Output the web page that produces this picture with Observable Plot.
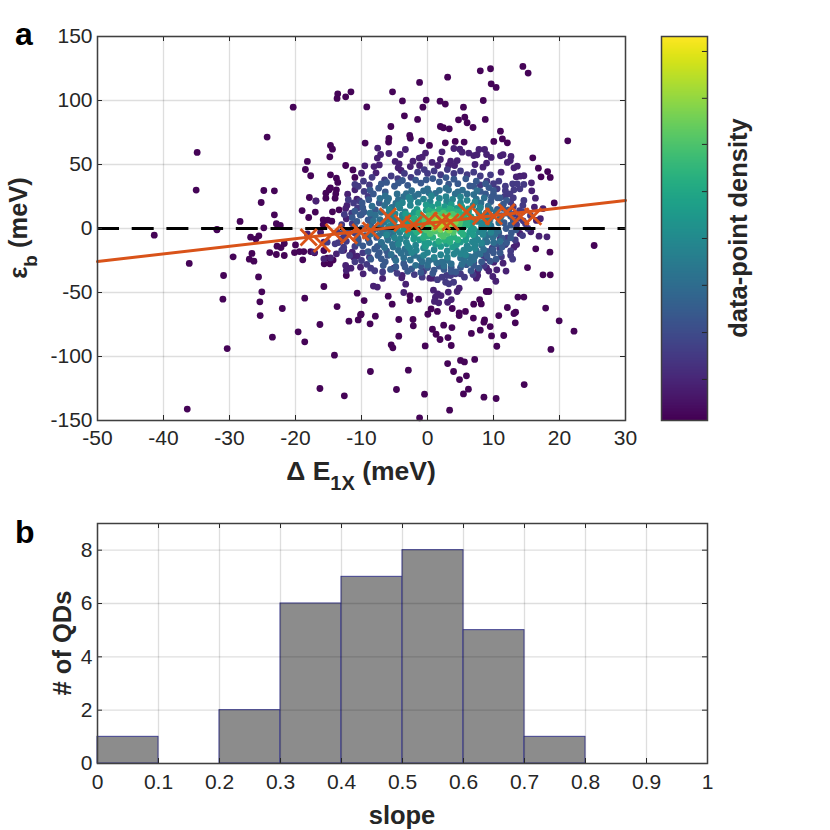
<!DOCTYPE html>
<html><head><meta charset="utf-8">
<script src="https://cdn.jsdelivr.net/npm/d3@7"></script>
<script src="https://cdn.jsdelivr.net/npm/@observablehq/plot@0.6"></script>
<style>
html,body{margin:0;padding:0;background:#fff;width:830px;height:830px;overflow:hidden}
#root{position:relative;width:830px;height:830px}
#root svg{position:absolute;background:transparent;max-width:none}
</style></head><body><div id="root"></div>
<script>
// ---- panel a: scatter points grouped by estimated density band
const far = [[-34.9,59.4],[-35.05,30],[-20.35,94.8],[-24.3,71.4],[-24.8,29.7],[-23.2,29.4],[-25.2,20.3],[-23.2,10.7],[-28.4,5.5],[-31.9,-0.8],[-24.8,0.5],[-22.9,3.7],[-22.3,2.4],[-13.6,105.2],[-13.7,101.6],[-12.4,102.9],[-11.6,106.8],[-14.7,64.9],[-14.4,62],[-14.8,56],[-18.2,52.4],[-18.5,46.1],[-17.7,41.2],[-12.4,49.2],[-11.3,45.8],[-14.7,41.9],[-13.8,39.3],[-13.6,36],[-11,39.9],[-14.7,31.8],[-14.9,30.2],[-13.8,30.2],[-15.4,27.6],[-13.9,27.1],[-14,23.7],[-15.4,23.7],[-17.9,24.2],[-16.9,21.6],[-19,14],[-18,8.6],[-17,12.8],[-14.4,13],[-13.4,14.6],[-15.8,6.8],[-15.1,6.5],[-14.5,5.7],[-15.8,3.1],
[14.45,126.6],[15.25,121.4],[9.55,124.8],[8,123.2],[3.05,118.2],[-1.2,114.1],[-5.3,106.8],[9.65,113],[10.4,110.2],[-9.2,95],[-3.8,99.7],[-0.2,100.3],[-0.7,94.8],[1.9,99.5],[2.7,97.2],[5.45,94.8],[8.45,100],[-3.5,88],[-1.5,85.2],[4.7,84.9],[5.65,87],[6,82.6],[8.75,85.2],[6.9,78.9],[1.95,79.7],[2.4,78.7],[3.3,77.9],[-5.55,79.7],[11.05,76],[11.35,70],[12.1,66.9],[10.05,68],[21.25,68.5],[-2.7,72.7],[-2.6,70.6],[-5.85,70.3],[-5.9,67.5],[-9.45,66.7],[-0.9,68.5],[0.3,64.9],[2.7,66.9],[4.2,68],[5.55,67.5],[15.95,55.2],[16.8,47.1],[18.2,44.5],[17.2,40.4],[18.6,39.9],[19.2,20],
[-41.4,-5.2],[-36.1,-27.3],[-30.9,-36.7],[-31,-55.2],[-30.35,-93.8],[-36.4,-141.1],[-29.45,-22.1],[-31.9,-1],[-26.8,-6.8],[-26,-8.3],[-25.55,-5.7],[-26.6,-19.5],[-27,-24],[-26.3,-25.5],[-25.6,-37.8],[-25.1,-49.5],[-25.4,-57.3],[-25.35,-68],[-22,-62.5],[-23.5,-84.9],[-23.9,-18.8],[-22.9,-20.3],[-21.7,-21.1],[-22.8,-13.8],[-22.2,-14.9],[-21.7,-11.7],[-20.15,-18.8],[-19.4,-18],[-18.75,-18],[-18.9,-24.5],[-20,-12.8],[-18.6,-54.4],[-15.7,-45.3],[-13.7,-61],[-10.65,-50.5],[-16.3,-75],[-19.6,-80.7],[-18.6,-88.5],[-11.9,-72.4],[-10.5,-71.4],[-10.15,-67.5],[-14.1,-99],[-16.3,-125],[-12.6,-130.7],[-15.65,-27.6],[-14.8,-27.6],[-14.3,-24.7],[-15.2,-23.2],[-12.3,-36.7],[-17.7,-18],[-17.1,-19],[-15.7,-17.2],
[25.25,-13.3],[22.2,-80.2],[19.95,-72.1],[18.7,-94.5],[17.9,-62.2],[18.6,-36.2],[17.5,-36.2],[18.55,-18.5],[16.4,-15.9],[15.15,-30.5],[14.6,-53.6],[13.7,-53.6],[12.1,-61.7],[13.35,-65.4],[13.1,-66.4],[13.3,-73.7],[10.8,-68],[11.55,-83.6],[9.7,-83.9],[10.5,-92],[9.5,-76.6],[8.65,-71.4],[8.55,-73.2],[8,-79.4],[6.65,-82],[6.95,-70],[5.75,-64.8],[4.8,-65.9],[4.8,-68],[3.7,-77.4],[2.45,-75.5],[0.75,-78.7],[1.3,-82.6],[1.9,-86.7],[3.1,-85.2],[3.6,-91.4],[-0.35,-91.7],[7.15,-102.3],[5,-103.1],[5.6,-104.2],[3.05,-105.5],[3.95,-111.7],[5.9,-115.1],[4.85,-118],[6.2,-125.5],[5.45,-129.2],[8.55,-131.8],[10.4,-132.8],[14.65,-121.9],[3.35,-141.9],[-1.2,-147.9],[-0.45,-129.4],[-4.7,-125.8],[-2.9,-110.7],[-8.65,-111.7],[-4.35,-84.1],[-5.5,-90.9],[-5.25,-93.2],[-2.15,-76],[-2.2,-71.1],[-4.35,-71.1],[-7.9,-68.5],[-8.7,-74.5],[-10.05,-67],[-5.35,-59.1],[-5.95,-52.9],[-9.6,-56.3],[-2.65,-52.4],[-2.65,-56.3],[-1.35,-55.2],[0.55,-62.8],[1.5,-64.8],[0.05,-67],[3.75,-62.5],[7,-59.1],[7.9,-55.5],[8.15,-58.9],[8.9,-49.2],[9.3,-49.2]];
const mid = [[-10,43.2],[-12.1,26.8],[-11,30.2],[-10.7,23],[-12.2,18],[-12.4,15.6],[-12.3,7.6],[-7.55,62.8],[-3.35,61.7],[-7.1,57.8],[-7.6,55],[-5.85,58.6],[-4.15,57.8],[2.2,59.9],[4,62.5],[4.9,62],[5.25,59.6],[6.25,58.9],[7,57],[7.5,57.6],[7.8,61.7],[8.65,61.7],[8.95,57.8],[9.65,55.5],[11.05,56.8],[11.45,57.6],[12.65,56.3],[12.55,53.1],[12.1,51.6],[-9.5,49],[-8.1,48.4],[-7.3,49.7],[-7.8,43.5],[-4.9,52.4],[-4.3,50.5],[-4.45,47.4],[-4,45.3],[-2.2,52.6],[-1.25,55],[-0.3,58.9],[-0.8,55.7],[-2.6,48.4],[-1.2,49.2],[1.95,53.9],[0.7,51.6],[1.55,49.2],[3.5,52.6],[4.5,53.1],[3.2,49.2],[4.1,49.2],[7.2,50],[8.4,47.9],[8.95,51.1],[11.15,44],[13.1,47.4],[13.6,48.7],[15.75,35.7],[15.8,29.4],[16.35,23.7],[16.2,16.7],[17.5,15.6],[14.6,41.2],[14,40.9],[13.45,40.4],[17.1,7.6],[16.5,6.3],[18.1,-6.5],[16.9,-6],[15.65,-2.6],[14,-3.9],[0.9,-48.2],[1.55,-51],[2.05,-52.4],[3.15,-49.7],[4.5,-49.2],[4.8,-46.6],[1.2,-53.7],[1.05,-57],[1.7,-58.1],[3.05,-57.6],[3.6,-55.5],[-3.6,-50],[-3.3,-43.5],[-8.2,-45],[-7.6,-45.8],[-6.8,-39],[-9.75,-35.4],[-3.85,-36.7],[-3.9,-38.5],[-5.1,-31],[0.35,-38.8],[0.7,-38.8],[10.35,-41.2],[7.4,-38.8],[7.6,-36.7],[9.9,-37.5],[10.5,-32.3],[11.9,-33.3],[8.95,-30.7],[9.3,-33.3],[11.45,-27.1],[10.05,-26.3],[7.6,-33.3],[-12.3,-32.8],[-12.4,-28.9],[-11.6,-31],[-10.15,-30.2],[-11.2,-22.4],[-10.65,-21.6],[-13.8,-19.8],[-16.2,-3],[-18.2,-4.2],[-15.7,-10.7],[-16.9,21.4],[-12.7,-17],[-11.4,-18.5],[-14.7,-23],[-15.7,-23.7],[-17.2,-18.5],[13.1,-14.6],[13.5,-12.5]];
const d10 = [[-10.5,33],[-9.6,29],[-8.8,34],[-9,25],[-10.6,16],[-11.5,12],[-10,11],[-11.4,3.7],[-6.5,38],[-5.5,41],[-4.5,39],[-3.5,43],[-2.5,40],[-1.5,44],[-0.5,46],[0,43],[1,45],[2,42],[3,46],[4,43],[5,45],[6,42],[7,44],[8,41],[9,37],[10,35],[9.55,41.9],[10.8,37],[10.55,31],[12.9,34.9],[13.6,34.9],[14.6,34.4],[14,31],[13.1,30.2],[11.7,25],[14.6,21.9],[14.45,18],[12.6,20.6],[13.95,14],[14.85,3.7],[15.6,10.2],[13.8,8],[14.5,6],[13.5,3],[-13,-8],[-14,-12],[-15.2,-10.7],[-12.7,-14.6],[-13,-17.2],[-12.6,-6],[-13.6,-3],[-12,-1.5],[2.2,-38],[2.9,-36.7],[3.5,-36.7],[4.25,-35.4],[5,-35.4],[5.6,-38],[2.75,-42],[3.25,-43.2],[3.95,-42],[7,-26.3],[8.5,-21.1],[9,-23.2],[9.7,-17.2],[9.8,-15.4],[10.95,-15.4],[11.8,-12.5],[11,-8.1],[12.1,-7.3],[12.6,-21],[-8,-33],[-9.2,-28],[-10,-25],[-11,-14],[-9.8,-19],[-2,-36],[-0.6,-33.5],
[-9.7,37],[-8.4,40],[-11,34.5],[-12,22.5],[-11.2,20],[-10.3,21.5],[-12.6,11],[-13,3],[-11,-3.5],[-13.5,-11],[-12.3,-10],[-10.5,-9],[-11.8,-21],[-11,-26],[-8.8,-22.5],[-8.6,-31],[-6.8,-34],[-4.6,-35],[-0.8,-38],[1.5,-40],[6.9,-36],[8.6,-29],[12.6,-17.5],[12.9,-24],[11.2,-22],[13.3,-9],[14.4,-5.5],[15.2,0],[13,11],[14.4,13],[13,17],[12.5,27],[13,24],[11.8,29.5],[11.8,33],[8,34]];
const d18 = [[-6.2,36],[-3.8,37.5],[-1,35.5],[1.8,36.5],[4.6,35],[7.4,37],[-7.4,31.5],[-5,33],[9.3,32],[8,29],[-8.2,27],[-6.4,28.5],[10,27],[11,24],[-8.9,22.5],[-7.3,20],[9.6,21],[11.5,19],[-9.8,16],[-7.9,14.5],[10.6,15],[-10.2,10.5],[-8.5,9],[11.2,10],[-10.7,5.5],[-8.6,3.5],[11.6,4.5],[-9.9,0],[-8.3,-2],[11.9,0],[10.8,-3.5],[-9.4,-5.5],[-7.7,-7],[11.3,-7.5],[-8.8,-11],[-6.9,-12.5],[10.4,-12],[12,-11],[-8,-16],[-6.2,-17.5],[9.9,-16.5],[11,-19],[-7.5,-21],[-5,-23],[9,-21.5],[10.4,-24],[-6.4,-26],[-3.6,-27.5],[8.2,-26],[7,-29],[-4.8,-30],[-2.4,-31.5],[0,-30.5],[2.5,-32],[5,-30.5],[6.6,-33],[0.8,-35],[3.6,-33.5],
[-3,33.7],[-0.2,38],[2.8,39.8],[5.8,38.8],[-7,34.8],[9.7,24.4],[-9.9,20],[-11.4,8.5],[-9.6,12.8],[-11,1],[-12.6,-2],[-10.6,-7],[-9.8,-13.5],[-7.3,-18.8],[-9,-18],[-6,-21],[-6.7,-29],[-3,-33.4],[-1,-34.3],[1.8,-29.4],[4.3,-34],[5.9,-28.3],[10,-19],[9.5,-25.6],[12.7,-3.5],[13.4,-1],[13,6],[12.6,9.5],[12.3,14.5],[10.6,24],[10,29.8],[6.4,33.3],[3.2,34.6],
[-8.7,30],[-4.4,35.6],[-1.8,37.8],[0.8,39],[4,38.5],[7,33],[8.8,35],[-11,13.5],[-9,6.8],[-10.4,-2.4],[-9,-8.3],[-10.5,-11.3],[-7.6,-14],[-8.6,-24],[-7,-23.7],[-5.6,-32],[-3.4,-30],[-1,-29.2],[1,-32.5],[3.6,-30.4],[7.8,-31],[9,-17.8],[11.3,-14.4],[12.6,-7.4],[12.6,2.6],[12,12],[11.4,15.8],[12,22],[8.8,27]];
const d28 = [[-4.6,27],[-2.4,29.5],[0,31],[2.8,31.5],[5.3,30],[7,26.5],[-5.9,23.5],[-3.6,24.8],[-1.4,26.8],[1.2,27.5],[4.2,27],[8.6,24],[-6.5,18],[-4.8,19.6],[8.1,20],[9.2,17.5],[-7,12.6],[-5.5,13.5],[8.9,12],[9.8,9.5],[-7.2,7],[-5.9,8.5],[9.4,6],[-7,2],[-5.4,-0.2],[9.6,2],[10,-1],[-6.7,-3.4],[-5.2,-5],[9.2,-4.8],[-6,-9],[-4.5,-10.5],[8.8,-8.6],[-5.2,-14.5],[-3.4,-16],[8.2,-13],[9,-10.5],[-4,-19.4],[-2,-21],[7.4,-17.5],[8,-20],[-2.6,-24.6],[-0.8,-26],[1.4,-26.8],[3.6,-27.6],[5.6,-25],[6.4,-22],
[-2,25],[0.2,27.9],[3.2,30],[-4.4,22.6],[6,27],[7.4,23],[-5.4,16.4],[-6.1,21],[8,17.4],[10.4,13],[-7.9,10.4],[-6.6,5],[-8.2,6],[-7.6,0],[-6,-1.9],[10.8,4.5],[11,8],[10.7,-1.8],[-7.4,-5.3],[-6.1,-6.6],[9.9,-7],[-7,-10.8],[-5.3,-12.4],[10,-11],[-6.5,-14.8],[-4.4,-17],[-5.5,-20.3],[-3,-19],[-3.6,-23],[-1,-24],[1,-24],[3,-24.8],[5,-23],[7,-24.6],[8.5,-16.4],[2.5,-29.2],[0,-28.5],[-1.8,-28.8],[5.2,-28],
[-6.4,25.4],[-7.2,23.6],[-3.2,27.2],[-0.6,29.4],[1.8,29.8],[4.6,28.5],[7.5,29.5],[-8.4,17.4],[-8.7,12],[9.5,14.8],[-8.9,1.5],[-8.6,-4.3],[-6.9,-1],[10.2,-4.6],[11,-10],[7.2,-21.6],[-1.2,-22.8],[-4.8,-25],[6.4,-26.8],[0.2,-25.2],[2.2,-26]];
const d38 = [[-2.6,22],[-0.6,23],[1.8,23.5],[3.8,22.8],[6,22],[-4.2,16],[-2.6,18],[6.9,18],[-4.9,11.5],[-3.4,13],[7.7,14],[-5,6],[-3.8,8],[8,9.4],[7.6,5.5],[-4.6,1],[-3.6,3],[8.2,1.8],[-4.2,-3.2],[-3.2,-6],[7.8,-2.5],[7.2,-6.5],[-3.2,-10.8],[-1.8,-13],[6.8,-10.4],[6,-13.6],[-1.7,-17],[0,-18.8],[2,-20.5],[4,-20],[5.5,-17],
[-1.4,20.4],[0.4,21],[2.9,20.9],[5,20],[7.2,20.7],[-3.8,20.2],[-5.4,9.5],[-6,11],[-3.8,10.6],[7.8,11.8],[8.9,8],[-5.3,3.5],[-4.8,-1.2],[8.5,4.6],[8.6,-0.5],[8.4,-4.6],[-5,-7.2],[-4.1,-8.2],[7.6,-8.8],[-3,-13.6],[-2.7,-15.3],[7.2,-13],[-0.6,-15.3],[1,-16.6],[3,-17.5],[4.4,-17.7],[6.3,-15.8],[-0.6,-21],[1,-22.5],[3,-22.3],[5,-19.8],
[-4.4,18.4],[-2.8,24.3],[0.6,25.4],[2.8,24.8],[5,24.6],[8,16.2],[-5.8,14.9],[-6,7],[-5.9,1.7],[9.2,3.6],[9.6,-3],[-6.2,-4.8],[-4.4,-12.2],[8.2,-11.4],[-2.4,-18.8],[5.8,-20.6],[7.2,-15.5]];
const d48 = [[-1.6,15],[-0.2,18.5],[1.6,19],[3.6,18.6],[5.2,16.8],[-2.6,9.8],[-2,12.5],[6.2,12.4],[6.6,9],[-3,5],[-2.6,1.5],[6.8,4.5],[6.6,1],[-2.6,-2.2],[-2,-5.4],[6.4,-2.8],[5.9,-6],[-1.2,-8.8],[0.2,-11.4],[2,-14],[3.8,-14.5],[5,-10.6],
[-0.2,14.2],[0.7,16.8],[2.6,17],[4.4,15.7],[6.2,15.4],[-3.3,11.2],[-3.2,7],[7,7.2],[-3.6,-0.5],[7,-0.6],[-3,-4],[6.9,-4.8],[-2.1,-8.2],[-0.4,-11.4],[1.2,-12.2],[2.9,-12],[4.4,-12.6],[5.8,-9],[-0.3,-14],[6.2,14]];
const d60 = [[0.2,14],[1.8,15],[3.4,15.4],[4.8,13],[-1,10],[-1.2,6.5],[5.4,9],[5.6,5.4],[-1.4,3],[-1.2,-0.5],[5.5,1.2],[5,-2.4],[-0.4,-3.8],[0.8,-7],[2.6,-9],[4,-6.8],
[1,13],[2.6,13.4],[4.2,13.2],[5.6,11],[-1.3,12],[-0.6,8.3],[-2,7.6],[-2,4.4],[6,7],[6,3],[-2,0.2],[-1.6,-2.8],[5.2,-0.8],[5.4,-4.6],[0,-6],[1.7,-10],[3.4,-10.4],[-0.6,-7],[3.4,-8],[4.6,-8.8]];
const d72 = [[1,11.5],[2.4,12],[3.8,11],[0,8],[4.6,7.6],[-0.1,4.4],[4.8,3.6],[0.2,1],[4.2,0],[1.2,-2],[3,-3.8],
[1.6,10.4],[3,10.4],[0.2,10],[4.4,9.6],[-0.4,6.2],[0.6,6.8],[-0.6,2.2],[4.9,5.6],[-0.2,-1],[4.6,1.9],[2,-4.6],[3.9,-3],[0.4,-4],[2.4,-6]];
const d85 = [[1.4,8.6],[2.8,9],[3.8,6.6],[1.1,5.6],[3.9,3.6],[1.4,2.6],[2.8,0.8],[2,7.4],[3.2,7.6],[0.8,3.8],[3.5,1.8],[1,0.4],[2,-0.6],[3.3,-1.2],[4.2,5],[0.6,7.4]];
const d95 = [[2.4,6.2],[3,4],[2,4.4],[1.6,6],[3.3,5.6],[2.6,2.4],[1.8,2.8]];
const bandLevels = [0.01,0.09,0.17,0.27,0.36,0.45,0.54,0.63,0.72,0.81,0.89];
const bandPoints = [far,mid,d10,d18,d28,d38,d48,d60,d72,d85,d95];
const binnedX = [-18,-16,-14.2,-11.9,-10.15,-8.6,-6,-3.8,-2.1,0.2,2.2,3.5,5.9,8.1,10.05,12,14.1,16];
const binnedY = [-6.8,-12,-2.9,-5.5,-2.9,-1.6,9.4,4.2,2.9,6.3,5.7,5,12.8,9.4,9.6,12.8,9.4,9.4];
const fitX = [-50,30];
const fitY = [-25.8,21.9];
const xTicksA = [-50,-40,-30,-20,-10,0,10,20,30];
const yTicksA = [-150,-100,-50,0,50,100,150];
// ---- colorbar
const barTicks = [0.107,0.229,0.352,0.474,0.596,0.719,0.839,0.961];
// ---- panel b: histogram
const binStarts = [0,0.2,0.3,0.4,0.5,0.6,0.7];
const binEnds = [0.1,0.3,0.4,0.5,0.6,0.7,0.8];
const binCounts = [1,2,6,7,8,5,1];
const xTicksB = [0,0.1,0.2,0.3,0.4,0.5,0.6,0.7,0.8,0.9,1];
const yTicksB = [0,2,4,6,8];

const INK="#262626", FRAME="#404040", FONT="'Liberation Sans',Arial,sans-serif";
const gridStyle={stroke:"#000",strokeOpacity:0.13,strokeWidth:1.3};
const lab={tickSize:0,fontSize:21,color:INK,tickFormat:d=>String(d),label:null};
const TL=5;
const tickMarks=(xt,yt,pw,ph)=>[
  Plot.ruleX(xt,{insetTop:ph-TL,stroke:INK,strokeWidth:1}),
  Plot.ruleX(xt,{insetBottom:ph-TL,stroke:INK,strokeWidth:1}),
  Plot.ruleY(yt,{insetRight:pw-TL,stroke:INK,strokeWidth:1}),
  Plot.ruleY(yt,{insetLeft:pw-TL,stroke:INK,strokeWidth:1})];
const root=document.getElementById("root");
const place=(svg,l,t)=>{svg.style.left=l+"px";svg.style.top=t+"px";root.appendChild(svg);return svg;};
const sub=(svg,parts,attrs)=>{const t=d3.select(svg).append("text").attr("font-family",FONT).attr("font-weight","bold").attr("fill",INK).attr("text-anchor","middle").attr("font-size",attrs.size).attr("transform",attrs.transform);
  parts.forEach(p=>{const s=t.append("tspan").text(p.t);if(p.dy)s.attr("dy",p.dy);if(p.size)s.attr("font-size",p.size);});};
const panelLetter=(svg,s,y)=>d3.select(svg).append("text").text(s).attr("x",15).attr("y",y).attr("text-anchor","start").attr("font-family",FONT).attr("font-weight","bold").attr("font-size",32).attr("fill","#000");

const pts=bandPoints.flatMap((arr,i)=>arr.map(([x,y])=>({x,y,d:bandLevels[i]})));
const cross=binnedX.map((x,i)=>({x,y:binnedY[i]}));
const fit=fitX.map((x,i)=>({x,y:fitY[i]}));

const a=Plot.plot({width:640,height:500,marginLeft:97,marginRight:15,marginTop:36,marginBottom:80,
  style:{fontFamily:FONT,background:"transparent"},
  x:{domain:[-50,30],label:null},y:{domain:[-150,150],label:null},
  color:{type:"linear",domain:[0,1],scheme:"viridis"},
  marks:[
    Plot.ruleX(xTicksA,gridStyle),Plot.ruleY(yTicksA,gridStyle),
    Plot.dot(pts,{x:"x",y:"y",r:3.4,fill:"d",stroke:null}),
    Plot.ruleY([0],{stroke:"#000",strokeWidth:3,strokeDasharray:"22,12.7"}),
    Plot.line(fit,{x:"x",y:"y",stroke:"#D95319",strokeWidth:3}),
    Plot.dot(cross,{x:"x",y:"y",symbol:"times",r:7.5,stroke:"#D95319",strokeWidth:2.8}),
    Plot.axisX(xTicksA,{...lab,anchor:"bottom",tickPadding:10}),
    Plot.axisY(yTicksA,{...lab,anchor:"left",tickPadding:5}),
    ...tickMarks(xTicksA,yTicksA,528,384),
    Plot.frame({stroke:FRAME,strokeWidth:1.5})
  ]});
place(a,0,0);
sub(a,[{t:"Δ E"},{t:"1X",dy:10,size:20},{t:" (meV)",dy:-10}],{size:26.5,transform:"translate(361,480)"});
sub(a,[{t:"ε"},{t:"b",dy:10,size:19},{t:" (meV)",dy:-10}],{size:25.5,transform:"translate(27,228) rotate(-90)"});
panelLetter(a,"a",45);

const levels=d3.range(0,256).map(i=>i/256);
const cb=Plot.plot({width:190,height:500,marginLeft:21,marginRight:123,marginTop:36,marginBottom:80,
  style:{fontFamily:FONT,background:"transparent"},
  x:{domain:[0,1],axis:null},y:{domain:[0,1],axis:null},
  color:{type:"linear",domain:[0,1],scheme:"viridis"},
  marks:[
    Plot.rect(levels,{x1:0,x2:1,y1:d=>d,y2:d=>Math.min(1,d+2/256),fill:d=>d}),
    Plot.ruleY(barTicks,{x1:0.89,x2:1,stroke:INK,strokeWidth:1}),
    Plot.frame({stroke:FRAME,strokeWidth:1.5})
  ]});
place(cb,640,0);
sub(cb,[{t:"data-point density"}],{size:25.5,transform:"translate(107,228) rotate(-90)"});

const bins=binCounts.map((c,i)=>({x1:binStarts[i],x2:binEnds[i],c}));
const b=Plot.plot({width:830,height:330,marginLeft:97,marginRight:123,marginTop:23,marginBottom:67,
  style:{fontFamily:FONT,background:"transparent"},
  x:{domain:[0,1],label:null},y:{domain:[0,9],label:null},
  marks:[
    Plot.rect(bins,{x1:"x1",x2:"x2",y1:0,y2:"c",fill:"#8c8c8c",stroke:"#40408f",strokeWidth:1}),
    Plot.ruleX(xTicksB,gridStyle),Plot.ruleY(yTicksB,gridStyle),
    Plot.axisX(xTicksB,{...lab,anchor:"bottom",tickPadding:11}),
    Plot.axisY(yTicksB,{...lab,anchor:"left",tickPadding:5}),
    ...tickMarks(xTicksB,yTicksB,610,240),
    Plot.frame({stroke:FRAME,strokeWidth:1.5})
  ]});
place(b,0,500);
sub(b,[{t:"slope"}],{size:25.5,transform:"translate(402,324)"});
sub(b,[{t:"# of QDs"}],{size:25.5,transform:"translate(71,143) rotate(-90)"});
panelLetter(b,"b",43);
</script></body></html>
